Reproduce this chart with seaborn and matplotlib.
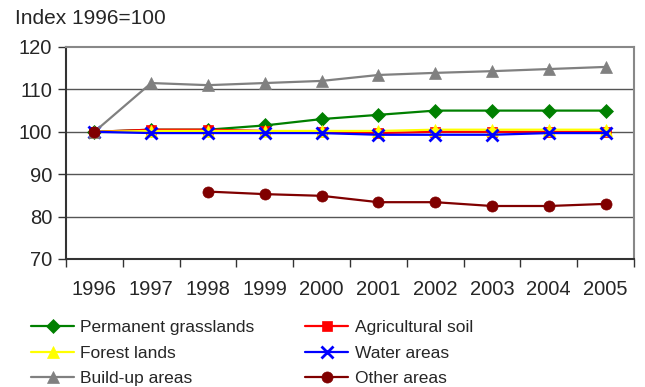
import numpy as np
import pandas as pd
import seaborn as sns
import matplotlib.pyplot as plt
from matplotlib.lines import Line2D

# values (index 1996=100)
years = ["1996", "1997", "1998", "1999", "2000", "2001", "2002", "2003", "2004", "2005"]
grasslands = [100, 100.5, 100.5, 101.5, 103, 104, 105, 105, 105, 105]
agricultural = [100, 100.5, 100.5, 100.2, 100, 99.7, 100, 100, 100, 100]
forest = [100, 100.2, 100.2, 100.2, 100.2, 100.2, 100.5, 100.5, 100.5, 100.5]
water = [100, 99.7, 99.7, 99.7, 99.7, 99.3, 99.3, 99.3, 99.7, 99.7]
buildup = [100, 111.5, 111, 111.5, 112, 113.4, 113.9, 114.3, 114.8, 115.3]
other = [100, np.nan, 85.9, 85.3, 84.9, 83.4, 83.4, 82.5, 82.5, 83]

series = [
    ("Permanent grasslands", grasslands, "#008000", "D", 7),
    ("Agricultural soil", agricultural, "#FF0000", "s", 7),
    ("Forest lands", forest, "#FFFF00", "^", 8),
    ("Water areas", water, "#0000FF", "x", 8),
    ("Build-up areas", buildup, "#808080", "^", 9),
    ("Other areas", other, "#800000", "o", 8),
]

sns.set_style("white")
plt.rcParams["font.family"] = ["Liberation Sans", "DejaVu Sans"]

fig = plt.figure(figsize=(6.45, 3.87), dpi=100)
ax = fig.add_axes([66 / 645, 1 - 259 / 387, (634 - 66) / 645, (259 - 47) / 387])

pos = np.arange(len(years))
handles = {}
for name, vals, color, marker, ms in series:
    df = pd.DataFrame({"x": pos, "y": vals})
    # split into runs so gaps are not bridged
    df["run"] = df["y"].isna().cumsum()
    df = df.dropna()
    for _, part in df.groupby("run"):
        sns.lineplot(data=part, x="x", y="y", ax=ax, color=color, lw=1.6,
                     marker=marker, markersize=ms,
                     markeredgewidth=2 if marker == "x" else 0.5,
                     markeredgecolor=color, legend=False, zorder=3)
    handles[name] = Line2D([], [], color=color, lw=1.6, marker=marker,
                           markersize=ms, markeredgewidth=2 if marker == "x" else 0.5,
                           markeredgecolor=color)

ax.set_xlim(-0.5, len(years) - 0.5)
ax.set_ylim(70, 120)
ax.set_yticks([70, 80, 90, 100, 110, 120])
ax.set_xticks(pos)
ax.set_xticklabels(years)
ax.set_xticks(np.arange(-0.5, len(years)), minor=True)
ax.tick_params(axis="x", which="major", bottom=False, length=0, pad=15, labelsize=14.5)
ax.tick_params(axis="x", which="minor", bottom=True, length=6, width=1,
               color="#333333", direction="out")
ax.tick_params(axis="y", left=True, length=6, width=1, color="#333333",
               direction="out", pad=4, labelsize=14.5)
ax.set_xlabel("")
ax.set_ylabel("")

for v in [80, 90, 100, 110]:
    ax.axhline(v, color="#555555", lw=1, zorder=1)
ax.spines["left"].set_color("#333333")
ax.spines["bottom"].set_color("#333333")
ax.spines["left"].set_linewidth(1.5)
ax.spines["bottom"].set_linewidth(1.5)
ax.spines["top"].set_color("#888888")
ax.spines["right"].set_color("#888888")
ax.spines["top"].set_linewidth(1.5)
ax.spines["right"].set_linewidth(1.5)

fig.text(15 / 645, 1 - 9 / 387, "Index 1996=100", fontsize=15, va="top", ha="left")

order = ["Permanent grasslands", "Forest lands", "Build-up areas",
         "Agricultural soil", "Water areas", "Other areas"]
fig.legend([handles[n] for n in order], order, ncol=2, frameon=False,
           loc="upper left", bbox_to_anchor=(31 / 645, 1 - 320 / 387),
           fontsize=12.5, handlelength=2.5, handletextpad=0.35,
           columnspacing=2.9, labelspacing=0.6, borderpad=0, borderaxespad=0)

fig.savefig("out.png", dpi=100)
